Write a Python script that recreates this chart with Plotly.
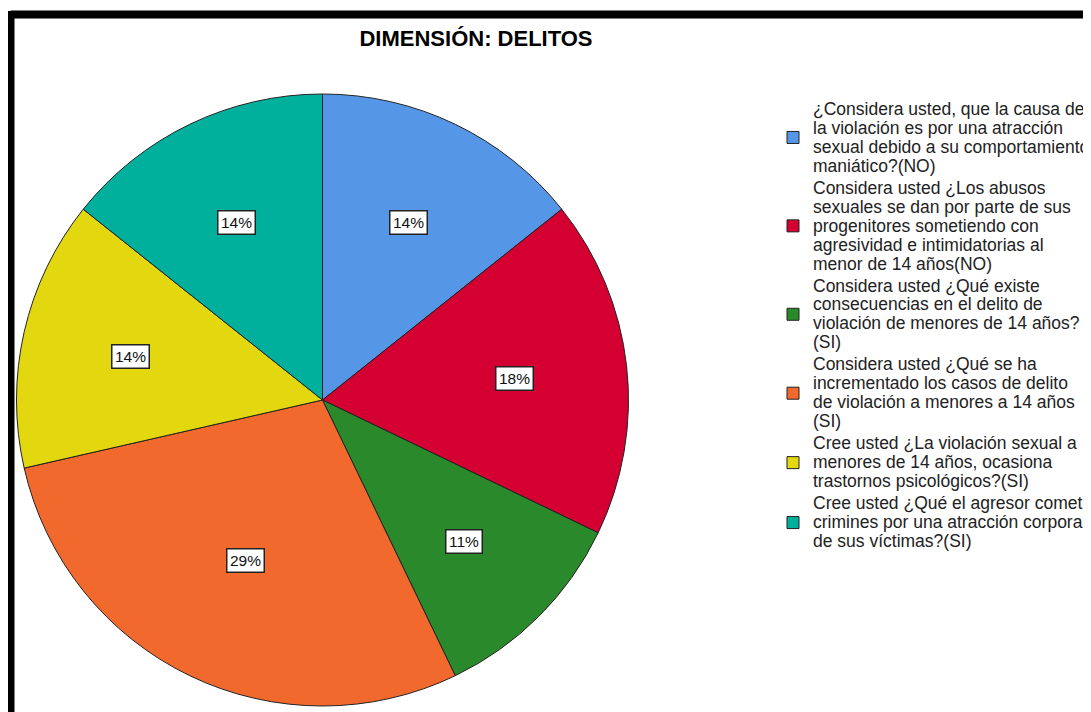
import math
import plotly.graph_objects as go

# Datos (conteos por pregunta, N = 28)
label_lines = [
    ["¿Considera usted, que la causa de", "la violación es por una atracción",
     "sexual debido a su comportamiento", "maniático?(NO)"],
    ["Considera usted ¿Los abusos", "sexuales se dan por parte de sus", "progenitores sometiendo con",
     "agresividad e intimidatorias al", "menor de 14 años(NO)"],
    ["Considera usted ¿Qué existe", "consecuencias en el delito de",
     "violación de menores de 14 años?", "(SI)"],
    ["Considera usted ¿Qué se ha", "incrementado los casos de delito",
     "de violación a menores a 14 años", "(SI)"],
    ["Cree usted ¿La violación sexual a", "menores de 14 años, ocasiona", "trastornos psicológicos?(SI)"],
    ["Cree usted ¿Qué el agresor comete", "crimines por una atracción corporal", "de sus víctimas?(SI)"],
]
counts = [4, 5, 3, 8, 4, 4]
colors = ["#5597E6", "#D50032", "#2A8A2B", "#F2692D", "#E3D70F", "#00B09C"]

# bigger glyphs than the legend font so the lines stay tight like the original
labels = ["<br>".join(f'<span style="font-size:17.5px">{ln}</span>' for ln in lines) for lines in label_lines]

W, H = 1091, 712
OFF = 8  # page margin around the plot div


def px(sx):
    return (sx - OFF) / W


def py(sy):
    return 1 - (sy - OFF) / H


cx, cy, r = 322.5, 400, 306  # pie centre / radius (screen px)

fig = go.Figure()
fig.add_trace(
    go.Pie(
        labels=labels,
        values=counts,
        sort=False,
        direction="clockwise",
        rotation=0,
        textinfo="none",
        hoverinfo="percent",
        marker=dict(colors=colors, line=dict(color="#222222", width=1)),
        domain=dict(x=[px(cx - r), px(cx + r)], y=[py(cy + r), py(cy - r)]),
    )
)

# percentage boxes at the centroid of each wedge
total = sum(counts)
start = 0.0
for v in counts:
    a = 2 * math.pi * v / total
    mid = start + a / 2
    d = 4 * r * math.sin(a / 2) / (3 * a)
    fig.add_annotation(
        x=px(cx + d * math.sin(mid)),
        y=py(cy - d * math.cos(mid)),
        xref="paper", yref="paper",
        xanchor="center", yanchor="middle",
        text=f"{round(100 * v / total)}%",
        showarrow=False,
        font=dict(family="Liberation Sans, Arial", size=15.5, color="#111111"),
        bgcolor="white",
        bordercolor="#222222",
        borderwidth=1.5,
        borderpad=2.5,
    )
    start += a

# marco negro (arriba e izquierda)
fig.add_shape(type="line", xref="paper", yref="paper", x0=px(10.5), x1=1, y0=py(14.5), y1=py(14.5),
              line=dict(color="black", width=8))
fig.add_shape(type="line", xref="paper", yref="paper", x0=px(10.5), x1=px(10.5), y0=0, y1=py(11),
              line=dict(color="black", width=8))

fig.update_layout(
    width=W,
    height=H,
    margin=dict(l=0, r=0, t=0, b=0),
    paper_bgcolor="white",
    title=dict(
        text="<b>DIMENSIÓN: DELITOS</b>",
        x=px(476), xanchor="center",
        y=py(38), yanchor="middle",
        font=dict(family="Liberation Sans, Arial", size=22, color="black"),
    ),
    legend=dict(
        x=px(773), xanchor="left",
        y=py(93), yanchor="top",
        font=dict(family="Liberation Sans, Arial", size=14.6, color="#222222"),
        bgcolor="rgba(0,0,0,0)",
    ),
    showlegend=True,
)

fig.write_html("out.html")
